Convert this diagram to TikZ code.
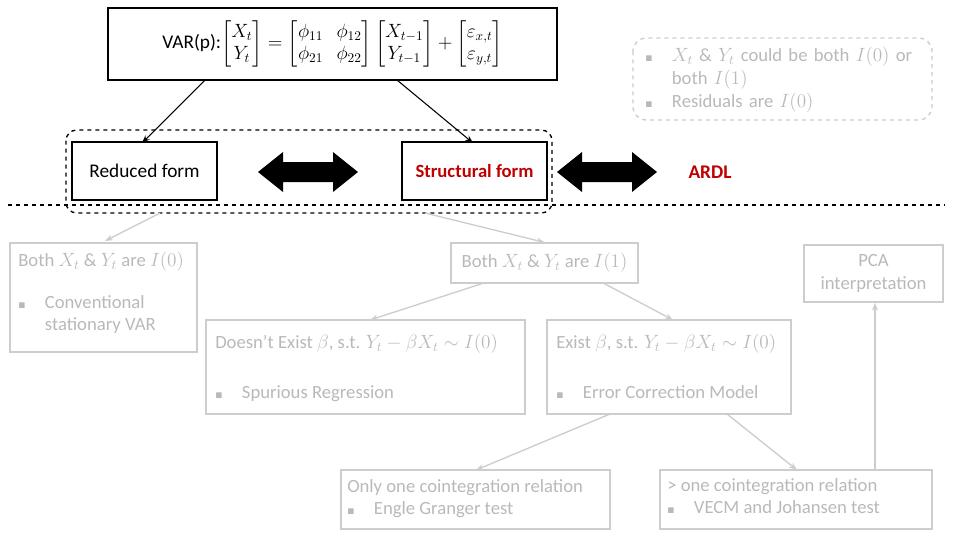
\documentclass[tikz,border=0pt]{standalone}
\usepackage{amsmath,amssymb}
\usepackage{fontspec}
\setmainfont{Carlito}
\usetikzlibrary{arrows.meta}
\definecolor{gb}{RGB}{205,205,205}
\definecolor{gt}{RGB}{185,185,185}
\definecolor{dred}{RGB}{192,0,0}
\begin{document}
\begin{tikzpicture}[x=0.75pt,y=-0.75pt,
 bx/.style={draw,line width=1pt},
 gbox/.style={draw=gb,line width=1pt},
 gtxt/.style={text=gt,font=\fontsize{14}{17}\selectfont,align=left,inner sep=0},
 garr/.style={draw=gb,line width=1pt,-{Stealth[length=6pt]}},
 barr/.style={draw=black,line width=0.8pt,-{Stealth[length=6pt]}}]
\useasboundingbox (0,0) rectangle (960,540);
% top
\node[bx,minimum width=336.75pt,minimum height=54pt] (var) at (332.5,44) {\fontsize{14.5}{17}\selectfont VAR(p):$\begin{bmatrix}X_t\\Y_t\end{bmatrix}=\begin{bmatrix}\phi_{11}&\phi_{12}\\\phi_{21}&\phi_{22}\end{bmatrix}\begin{bmatrix}X_{t-1}\\Y_{t-1}\end{bmatrix}+\begin{bmatrix}\varepsilon_{x,t}\\\varepsilon_{y,t}\end{bmatrix}$};
\node[bx,minimum width=108.75pt,minimum height=43.5pt,font=\fontsize{14.5}{17}\selectfont] (red) at (144.5,171) {Reduced form};
\node[bx,minimum width=108.75pt,minimum height=43.5pt,font=\bfseries\fontsize{14}{17}\selectfont,text=dred] (str) at (474.5,171) {Structural form};
\node[font=\bfseries\fontsize{14.5}{17}\selectfont,text=dred] (ardl) at (710,172) {ARDL};
\draw[dashed,line width=1pt,rounded corners=8pt] (66,130) rectangle (552,213);
\coordinate (grpL) at (160,213); \coordinate (grpR) at (425,213);
\foreach \cx in {308,607}{
 \fill (\cx-50,172) -- (\cx-25,152) -- (\cx-25,162) -- (\cx+25,162) -- (\cx+25,152) -- (\cx+50,172) -- (\cx+25,192) -- (\cx+25,182) -- (\cx-25,182) -- (\cx-25,192) -- cycle;}
\draw[dashed,line width=0.8pt] (8,205) -- (945,205);
\draw[barr] (205,80) -- (142,143);
\draw[barr] (397,80) -- (473,143);
% note
\draw[draw=gb,dashed,line width=1pt,rounded corners=10pt] (633,38) rectangle (932,120);
\node[gtxt,anchor=north west,text width=210pt] (note) at (645,47) {\setlength{\parindent}{0pt}\hangindent=20pt\makebox[20pt][l]{\tiny$\blacksquare$}$X_t$ \& $Y_t$ could be both $I(0)$ or both $I(1)$\par\hangindent=20pt\makebox[20pt][l]{\tiny$\blacksquare$}Residuals are $I(0)$};
% grey boxes
\draw[gbox] (10,243) rectangle (197,352); \coordinate (Atop) at (105,241);
\node[gtxt,anchor=north west] (A) at (18,252) {Both $X_t$ \& $Y_t$ are $I(0)$\\[14pt]\makebox[20pt][l]{\tiny$\blacksquare$}Conventional\\\hspace*{20pt}stationary VAR};
\node[gbox,minimum width=140.25pt,minimum height=30pt,gtxt,inner sep=0,align=center] (B) at (544.5,263) {Both $X_t$ \& $Y_t$ are $I(1)$};
\node[gbox,minimum width=104.25pt,minimum height=42.75pt,gtxt,align=center] (pca) at (873.5,273.5) {PCA\\interpretation};
\draw[gbox] (206,320) rectangle (525,414); \coordinate (Ctop) at (370,320);
\node[gtxt,anchor=north west] (C) at (215,334) {Doesn't Exist $\beta$, s.t. $Y_t-\beta X_t\sim I(0)$\\[20pt]\makebox[20pt][l]{\tiny$\blacksquare$}Spurious Regression};
\draw[gbox] (547,320) rectangle (791,414); \coordinate (Dtop) at (673,320);
\coordinate (Dbl) at (610,414); \coordinate (Dbr) at (727,414);
\node[gtxt,anchor=north west] (D) at (556,334) {Exist $\beta$, s.t. $Y_t-\beta X_t\sim I(0)$\\[20pt]\makebox[20pt][l]{\tiny$\blacksquare$}Error Correction Model};
\draw[gbox] (341,470) rectangle (610,529); \coordinate (Etop) at (476,470);
\node[gtxt,anchor=north west] (E) at (347,479) {Only one cointegration relation\\\makebox[20pt][l]{\tiny$\blacksquare$}Engle Granger test};
\draw[gbox] (660,470) rectangle (932,529); \coordinate (Ftop) at (797,470); \coordinate (Fpca) at (875,470);
\node[gtxt,anchor=north west] (F) at (667,478) {> one cointegration relation\\\makebox[20pt][l]{\tiny$\blacksquare$}VECM and Johansen test};
% grey arrows
\draw[garr] (grpL) -- (Atop);
\draw[garr] (grpR) -- (B.north);
\draw[garr] ([xshift=-47]B.south) -- (Ctop);
\draw[garr] ([xshift=45]B.south) -- (Dtop);
\draw[garr] (Dbl) -- (Etop);
\draw[garr] (Dbr) -- (Ftop);
\draw[garr] (Fpca) -- (pca.south -| Fpca);
\end{tikzpicture}
\end{document}
